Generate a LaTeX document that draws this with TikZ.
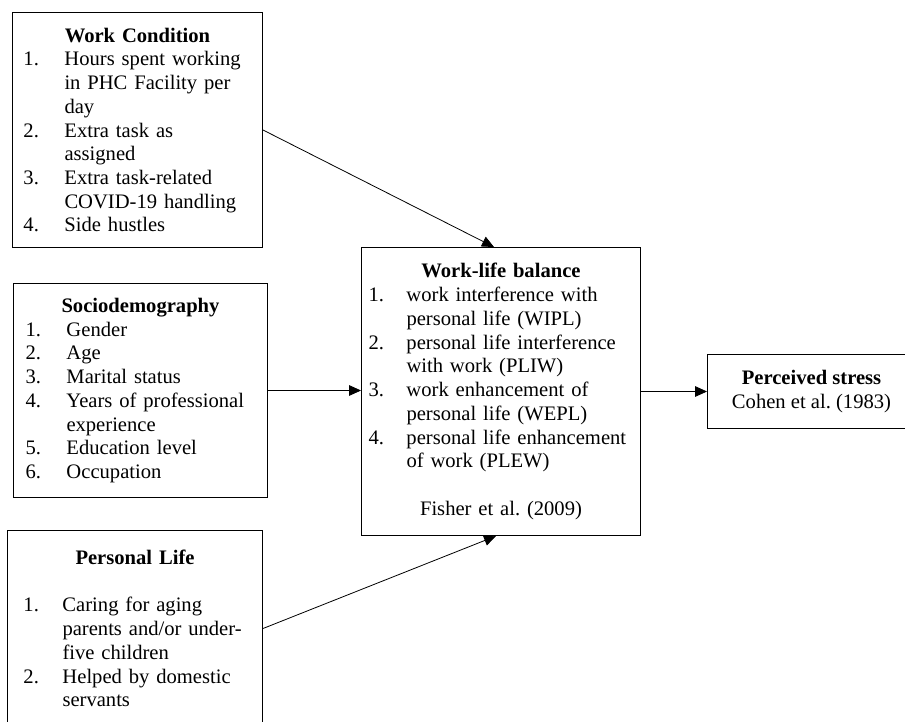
\documentclass[tikz,border=0pt]{standalone}
\usepackage{fontspec}
\setmainfont{Liberation Serif}
\usetikzlibrary{arrows.meta}
\frenchspacing
\newlength\px
\setlength\px{0.75pt}
% numbered item with hanging indent
\newcommand{\itm}[3][41]{\par\noindent\hangindent=#1\px\makebox[#1\px][l]{#2}#3\par}
\newcommand{\gap}{\par\vskip\baselineskip}

\begin{document}
\begin{tikzpicture}[
        x=0.75pt, y=-0.75pt,
        box/.style={rectangle, draw, line width=0.75pt, inner sep=0pt, anchor=north west, align=left, font=\fontsize{15.45pt}{17.8pt}\selectfont},
        arrow/.style={-{Triangle[length=9pt,width=8pt]}, line width=0.6pt}
    ]
        \useasboundingbox (0,0) rectangle (905,721);
        \clip (0,0) rectangle (905,721);

        % Factors
        \node[box, minimum width=250\px, minimum height=235\px, text width=228\px] (wc) at (12,12) {%
            {\centering\bfseries Work Condition\par}
            \itm{1.}{Hours spent working\newline in PHC Facility per\newline day}
            \itm{2.}{Extra task as\newline assigned}
            \itm{3.}{Extra task-related\newline COVID-19 handling}
            \itm{4.}{Side hustles}};
        \node[box, minimum width=254\px, minimum height=214\px, text width=230\px] (sd) at (13,283) {%
            {\centering\bfseries Sociodemography\par}
            \itm{1.}{Gender}
            \itm{2.}{Age}
            \itm{3.}{Marital status}
            \itm{4.}{Years of professional\newline experience}
            \itm{5.}{Education level}
            \itm{6.}{Occupation}};
        \node[box, minimum width=255\px, minimum height=196\px, text width=223\px] (pl) at (7,530) {%
            {\centering\bfseries Personal Life\par}
            \gap
            \itm[39]{1.}{Caring for aging\newline parents and/or under-\newline five children}
            \itm[39]{2.}{Helped by domestic\newline servants}};

        % Work-life balance
        \node[box, minimum width=279\px, minimum height=288\px, text width=265\px] (wlb) at (361,247) {%
            {\centering\bfseries Work-life balance\par}
            \itm[38]{1.}{work interference with\newline personal life (WIPL)}
            \itm[38]{2.}{personal life interference\newline with work (PLIW)}
            \itm[38]{3.}{work enhancement of\newline personal life (WEPL)}
            \itm[38]{4.}{personal life enhancement\newline of work (PLEW)}
            \gap
            {\centering Fisher et al. (2009)\par}};

        % Outcome
        \node[box, align=center, minimum width=208\px, minimum height=74\px] (ps) at (707,354) {\textbf{Perceived stress}\\Cohen et al. (1983)};

        % Arrows
        \draw[arrow] (wc.east) -- ([xshift=-7\px]wlb.north);
        \draw[arrow] (sd.east) -- (sd.east -| wlb.west);
        \draw[arrow] (pl.east) -- ([xshift=-5\px]wlb.south);
        \draw[arrow] (wlb.east) -- (wlb.east -| ps.west);
    \end{tikzpicture}
\end{document}
